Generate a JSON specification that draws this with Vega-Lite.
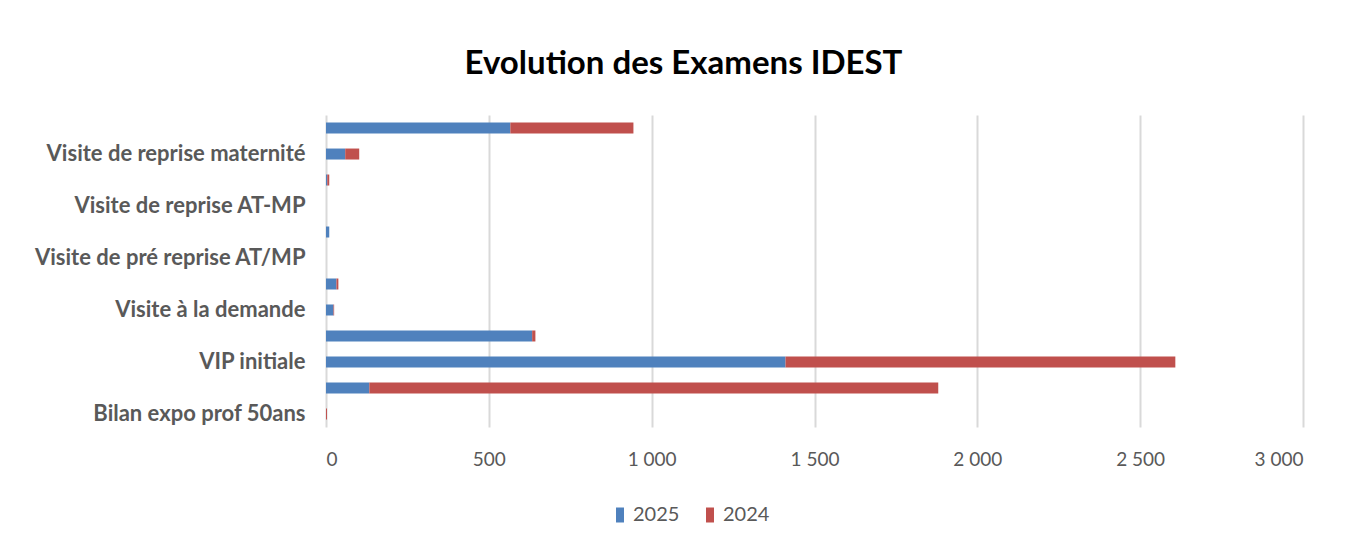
{
  "$schema": "https://vega.github.io/schema/vega-lite/v6.json",
  "width": 977,
  "height": 312,
  "autosize": {"type": "none"},
  "padding": {"left": 326, "top": 115, "right": 43, "bottom": 114},
  "background": "white",
  "title": {"text": "Evolution des Examens IDEST", "font": "Lato", "fontSize": 33, "fontWeight": "bold", "color": "#000000", "anchor": "middle", "dx": -131, "offset": 34},
  "data": {"values": [
    {"categorie": "Visite périodique", "annee": "2025", "valeur": 566},
    {"categorie": "Visite périodique", "annee": "2024", "valeur": 378},
    {"categorie": "Visite de reprise maternité", "annee": "2025", "valeur": 59},
    {"categorie": "Visite de reprise maternité", "annee": "2024", "valeur": 43},
    {"categorie": "Visite de reprise maladie", "annee": "2025", "valeur": 4},
    {"categorie": "Visite de reprise maladie", "annee": "2024", "valeur": 6},
    {"categorie": "Visite de reprise AT-MP", "annee": "2025", "valeur": 0},
    {"categorie": "Visite de reprise AT-MP", "annee": "2024", "valeur": 0},
    {"categorie": "Visite de pré reprise maladie", "annee": "2025", "valeur": 10},
    {"categorie": "Visite de pré reprise maladie", "annee": "2024", "valeur": 0},
    {"categorie": "Visite de pré reprise AT/MP", "annee": "2025", "valeur": 0},
    {"categorie": "Visite de pré reprise AT/MP", "annee": "2024", "valeur": 0},
    {"categorie": "Visite de mi-carrière", "annee": "2025", "valeur": 32},
    {"categorie": "Visite de mi-carrière", "annee": "2024", "valeur": 6},
    {"categorie": "Visite à la demande", "annee": "2025", "valeur": 23},
    {"categorie": "Visite à la demande", "annee": "2024", "valeur": 2},
    {"categorie": "VIP périodique", "annee": "2025", "valeur": 633},
    {"categorie": "VIP périodique", "annee": "2024", "valeur": 10},
    {"categorie": "VIP initiale", "annee": "2025", "valeur": 1411},
    {"categorie": "VIP initiale", "annee": "2024", "valeur": 1197},
    {"categorie": "SIR initiale", "annee": "2025", "valeur": 133},
    {"categorie": "SIR initiale", "annee": "2024", "valeur": 1747},
    {"categorie": "Bilan expo prof 50ans", "annee": "2025", "valeur": 0},
    {"categorie": "Bilan expo prof 50ans", "annee": "2024", "valeur": 3}
  ]},
  "mark": {"type": "bar"},
  "encoding": {
    "y": {
      "field": "categorie", "type": "nominal",
      "sort": ["Visite périodique", "Visite de reprise maternité", "Visite de reprise maladie", "Visite de reprise AT-MP", "Visite de pré reprise maladie", "Visite de pré reprise AT/MP", "Visite de mi-carrière", "Visite à la demande", "VIP périodique", "VIP initiale", "SIR initiale", "Bilan expo prof 50ans"],
      "scale": {"paddingInner": 0.577, "paddingOuter": 0.29},
      "axis": {
        "values": ["Visite de reprise maternité", "Visite de reprise AT-MP", "Visite de pré reprise AT/MP", "Visite à la demande", "VIP initiale", "Bilan expo prof 50ans"],
        "title": null, "ticks": false, "domain": false, "grid": false,
        "labelFont": "Lato", "labelFontWeight": "bold", "labelFontSize": 22, "labelColor": "#595959",
        "labelPadding": 21, "labelLimit": 400
      }
    },
    "x": {
      "field": "valeur", "type": "quantitative", "stack": "zero",
      "scale": {"domain": [0, 3000], "nice": false},
      "axis": {
        "values": [0, 500, 1000, 1500, 2000, 2500, 3000],
        "labelExpr": "replace(format(datum.value, ','), ',', ' ')",
        "title": null, "grid": true, "gridColor": "#d9d9d9", "gridWidth": 2,
        "domain": false, "ticks": false,
        "labelFont": "Lato", "labelFontSize": 19, "labelColor": "#595959", "labelPadding": 23
      }
    },
    "color": {
      "field": "annee", "type": "nominal",
      "scale": {"domain": ["2025", "2024"], "range": ["#4f81bd", "#c0504d"]},
      "legend": {
        "title": null, "orient": "none", "direction": "horizontal",
        "legendX": 284, "legendY": 390,
        "symbolType": "M-0.53,-1H0.53V1H-0.53Z", "symbolSize": 225, "symbolStrokeWidth": 0,
        "labelFont": "Lato", "labelFontSize": 20, "labelColor": "#595959",
        "labelOffset": 3, "columnPadding": 20
      }
    },
    "order": {"field": "annee", "sort": "descending"}
  },
  "config": {"view": {"stroke": null}}
}
